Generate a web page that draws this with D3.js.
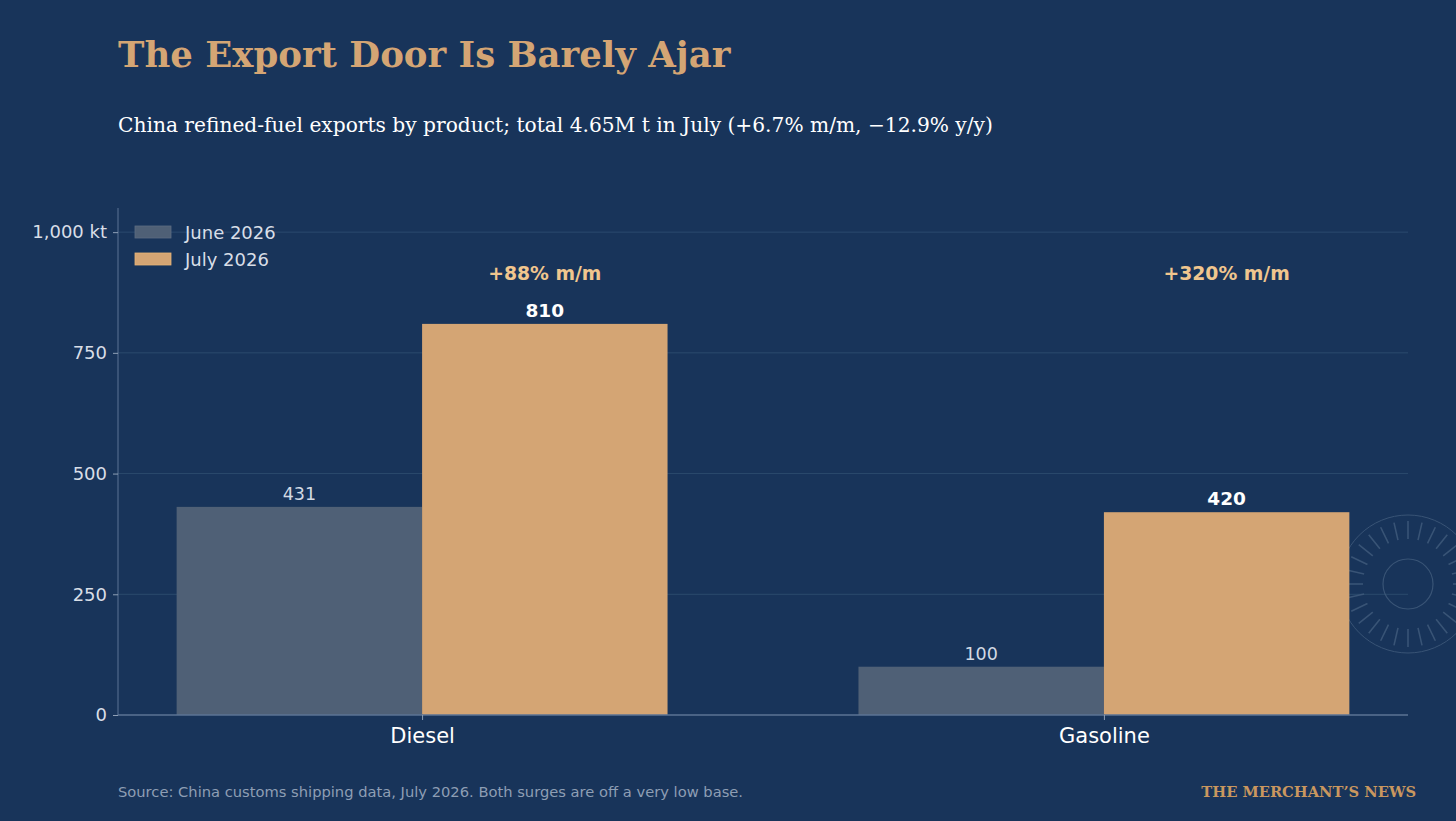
<!DOCTYPE html>
<html lang="en">
<head>
    <meta charset="UTF-8">
    <title>The Export Door Is Barely Ajar</title>
    <style>
        html, body { margin: 0; padding: 0; background: #18345a; }
        svg { display: block; }
    </style>
</head>
<body>
    <div id="chart"></div>
    <script src="https://d3js.org/d3.v7.min.js"></script>
    <script>
        // data
        const products = ["Diesel", "Gasoline"];
        const june2026 = [431, 100];
        const july2026 = [810, 420];
        const momLabels = ["+88% m/m", "+320% m/m"];
        const seriesNames = ["June 2026", "July 2026"];
        const yTicks = [0, 250, 500, 750, 1000];

        const W = 1456, H = 821;
        const m = { left: 118, right: 1408, top: 208, bottom: 715 };
        const colJune = "#4f6076", colJuly = "#d4a574";

        const svg = d3.select("#chart").append("svg").attr("width", W).attr("height", H);
        svg.append("rect").attr("width", W).attr("height", H).attr("fill", "#18345a");

        const x = d3.scaleLinear().domain([-0.446, products.length - 1 + 0.446]).range([m.left, m.right]);
        const y = d3.scaleLinear().domain([0, 1050]).range([m.bottom, m.top]);
        const barW = x(0.36) - x(0);

        // gridlines
        svg.append("g").selectAll("line").data(yTicks.filter(d => d > 0)).enter().append("line")
            .attr("x1", m.left).attr("x2", m.right)
            .attr("y1", d => y(d)).attr("y2", d => y(d))
            .attr("stroke", "#2b4a6d").attr("stroke-width", 1);

        // watermark dial
        const nTicks = 28;
        const ang = d => -Math.PI / 2 + d * 2 * Math.PI / nTicks;
        const dial = svg.append("g").attr("transform", "translate(1408,584)")
            .attr("fill", "none").attr("stroke", "#3f5a7b").attr("opacity", 0.85);
        dial.append("circle").attr("r", 69).attr("stroke-width", 1);
        dial.append("circle").attr("r", 25).attr("stroke-width", 1.2);
        dial.selectAll("line").data(d3.range(nTicks)).enter().append("line")
            .attr("x1", d => 45 * Math.cos(ang(d)))
            .attr("y1", d => 45 * Math.sin(ang(d)))
            .attr("x2", d => 63 * Math.cos(ang(d)))
            .attr("y2", d => 63 * Math.sin(ang(d)))
            .attr("stroke-width", 1.6);

        // bars
        const g = svg.append("g");
        g.selectAll(".june").data(june2026).enter().append("rect")
            .attr("x", (d, i) => x(i) - barW).attr("width", barW)
            .attr("y", d => y(d)).attr("height", d => y(0) - y(d))
            .attr("fill", colJune);
        g.selectAll(".july").data(july2026).enter().append("rect")
            .attr("x", (d, i) => x(i)).attr("width", barW)
            .attr("y", d => y(d)).attr("height", d => y(0) - y(d))
            .attr("fill", colJuly);

        // value labels
        g.selectAll(".jl").data(june2026).enter().append("text")
            .attr("x", (d, i) => x(i) - barW / 2).attr("y", d => y(d) - 7)
            .attr("text-anchor", "middle").attr("font-family", "DejaVu Sans").attr("font-size", 17.5)
            .attr("fill", "#d3dae4").text(d => d);
        g.selectAll(".yl").data(july2026).enter().append("text")
            .attr("x", (d, i) => x(i) + barW / 2).attr("y", d => y(d) - 7)
            .attr("text-anchor", "middle").attr("font-family", "DejaVu Sans").attr("font-weight", "bold")
            .attr("font-size", 18.5).attr("fill", "#ffffff").text(d => d);
        g.selectAll(".mom").data(momLabels).enter().append("text")
            .attr("x", (d, i) => x(i) + barW / 2).attr("y", y(915) + 7)
            .attr("text-anchor", "middle").attr("font-family", "DejaVu Sans").attr("font-weight", "bold")
            .attr("font-size", 18.8).attr("fill", "#f0c68e").text(d => d);

        // axes
        const yAxis = svg.append("g").attr("transform", `translate(${m.left},0)`)
            .call(d3.axisLeft(y).tickValues(yTicks).tickSize(5).tickPadding(6)
                .tickFormat(d => d === 1000 ? "1,000 kt" : d3.format(",")(d)));
        yAxis.select(".domain").attr("stroke", "#5b7394").attr("d", `M0,${m.top}V${m.bottom}`);
        yAxis.selectAll(".tick line").attr("stroke", "#8fa0b6");
        yAxis.selectAll(".tick text").attr("fill", "#d8dee7").attr("font-family", "DejaVu Sans").attr("font-size", 18);

        const xAxis = svg.append("g").attr("transform", `translate(0,${m.bottom})`)
            .call(d3.axisBottom(x).tickValues(d3.range(products.length)).tickSize(5).tickPadding(8)
                .tickFormat(i => products[i]));
        xAxis.select(".domain").attr("stroke", "#5b7394").attr("stroke-width", 1.5).attr("d", `M${m.left},0H${m.right}`);
        xAxis.selectAll(".tick line").attr("stroke", "#8fa0b6");
        xAxis.selectAll(".tick text").attr("fill", "#ffffff").attr("font-family", "DejaVu Sans").attr("font-size", 21);

        // legend
        const leg = svg.append("g").attr("transform", "translate(135,226)");
        seriesNames.forEach((s, i) => {
            leg.append("rect").attr("x", 0).attr("y", i * 27).attr("width", 36).attr("height", 12)
                .attr("fill", i ? colJuly : colJune)
                .attr("stroke", i ? "#e9b577" : "#5c6d83").attr("stroke-width", 0.8);
            leg.append("text").attr("x", 50).attr("y", i * 27 + 12.5)
                .attr("font-family", "DejaVu Sans").attr("font-size", 18).attr("fill", "#d8dee7").text(s);
        });

        // titles
        svg.append("text").attr("x", 118).attr("y", 67)
            .attr("font-family", "DejaVu Serif").attr("font-weight", "bold").attr("font-size", 35.5)
            .attr("fill", "#d4a574").text("The Export Door Is Barely Ajar");
        svg.append("text").attr("x", 118).attr("y", 132)
            .attr("font-family", "DejaVu Serif").attr("font-size", 20.2)
            .attr("fill", "#ffffff").text("China refined-fuel exports by product; total 4.65M t in July (+6.7% m/m, \u221212.9% y/y)");

        // footer
        svg.append("text").attr("x", 118).attr("y", 797)
            .attr("font-family", "DejaVu Sans").attr("font-size", 14.7)
            .attr("fill", "#8e9eb4").text("Source: China customs shipping data, July 2026. Both surges are off a very low base.");
        svg.append("text").attr("x", 1416).attr("y", 797).attr("text-anchor", "end")
            .attr("font-family", "DejaVu Serif").attr("font-weight", "bold").attr("font-size", 14.7)
            .attr("fill", "#c9975f").text("THE MERCHANT\u2019S NEWS");
    </script>
</body>
</html>
